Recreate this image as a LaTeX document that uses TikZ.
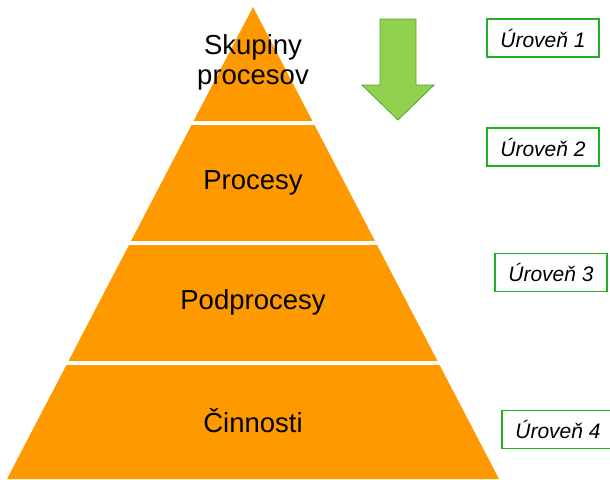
\documentclass[tikz,border=0pt]{standalone}
\usepackage{fontspec}
\setmainfont{Liberation Sans}
\definecolor{pyr}{HTML}{FF9900}
\definecolor{arrfill}{HTML}{92D050}
\definecolor{arrline}{HTML}{4CA82C}
\definecolor{boxline}{HTML}{22B022}
\begin{document}
\begin{tikzpicture}[x=1pt,y=-1pt,
  layertext/.style={font=\fontsize{27.5}{30}\selectfont, align=center, text=black},
  levelbox/.style={draw=boxline, line width=1.3pt, fill=white, minimum width=112pt, minimum height=38pt, inner sep=0pt, font=\fontsize{21}{24}\selectfont\itshape},
  sep/.style={white, line width=3.2pt}]
\useasboundingbox (0,0) rectangle (610,479);
\clip (0,0) rectangle (610,479);
% pyramid
\coordinate (apex) at (253,7);
\coordinate (bl) at (7,479);
\coordinate (br) at (499,479);
\fill[pyr] (apex) -- (br) -- (bl) -- cycle;
\draw[sep] (0,123) -- (610,123);
\draw[sep] (0,243) -- (610,243);
\draw[sep] (0,363) -- (610,363);
% layer texts
\node[layertext] (l1) at (253,62) {Skupiny\\procesov};
\node[layertext] (l2) at (253,183) {Procesy};
\node[layertext] (l3) at (253,302) {Podprocesy};
\node[layertext] (l4) at (253,421) {Činnosti};
% arrow
\draw[arrline, fill=arrfill, line width=0.8pt, line join=miter]
  (380,19) -- (416,19) -- (416,85) -- (434,85) -- (398,120) -- (362,85) -- (380,85) -- cycle;
% level boxes
\node[levelbox] (u1) at (543,38) {Úroveň 1};
\node[levelbox] (u2) at (543,147) {Úroveň 2};
\node[levelbox] (u3) at (551,272.5) {Úroveň 3};
\node[levelbox] (u4) at (558,429.5) {Úroveň 4};
\end{tikzpicture}
\end{document}
